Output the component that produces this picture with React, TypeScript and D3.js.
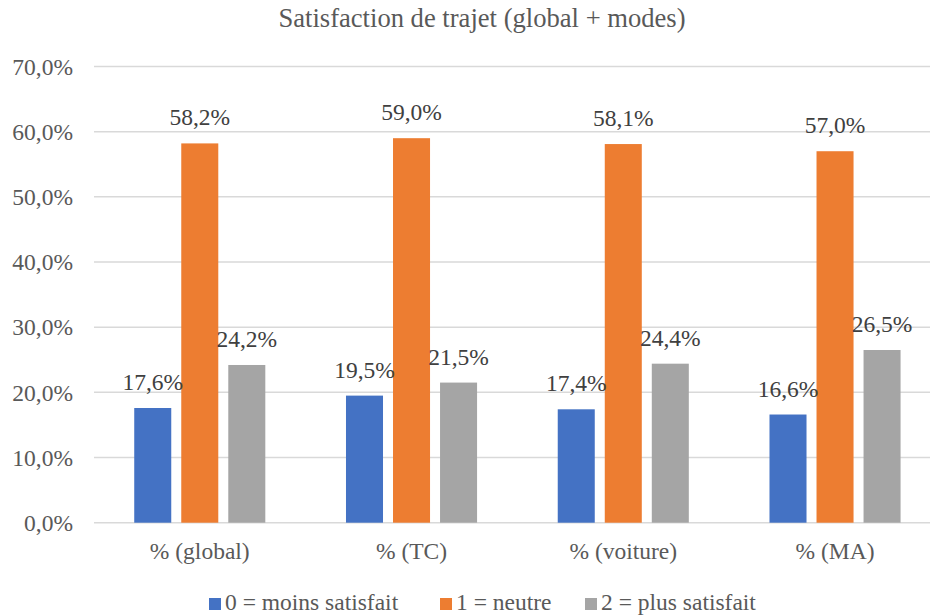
import { useEffect, useRef } from 'react';
import * as d3 from 'd3';

const categories = ['% (global)', '% (TC)', '% (voiture)', '% (MA)'];
const seriesNames = ['0 = moins satisfait', '1 = neutre', '2 = plus satisfait'];
const seriesColors = ['#4472C4', '#ED7D31', '#A5A5A5'];
const moinsSatisfait = [17.6, 19.5, 17.4, 16.6];
const neutre = [58.2, 59.0, 58.1, 57.0];
const plusSatisfait = [24.2, 21.5, 24.4, 26.5];
const yTicks = [0, 10, 20, 30, 40, 50, 60, 70];

const fmt = (v: number) => v.toFixed(1).replace('.', ',') + '%';
const FONT = '"Liberation Serif", "Times New Roman", serif';

export default function App() {
  const svgRef = useRef<SVGSVGElement | null>(null);
  const width = 930;
  const height = 615;

  useEffect(() => {
    if (!svgRef.current) return;
    const values = [moinsSatisfait, neutre, plusSatisfait];
    const svg = d3.select(svgRef.current);
    svg.selectAll('*').remove();

    const x0 = d3.scaleBand<string>().domain(categories).range([94, 940.8])
      .paddingInner(0.381).paddingOuter(0.19);
    const x1 = d3.scaleBand<string>().domain(seriesNames).range([0, x0.bandwidth()])
      .paddingInner(0.2128).paddingOuter(0);
    const y = d3.scaleLinear().domain([0, 70]).range([522.7, 66.5]);

    // title
    svg.append('text')
      .attr('x', 482).attr('y', 27)
      .attr('text-anchor', 'middle')
      .attr('font-family', FONT).attr('font-size', 26.6)
      .attr('fill', '#595959')
      .text('Satisfaction de trajet (global + modes)');

    // grid
    svg.append('g').selectAll('line').data(yTicks).join('line')
      .attr('x1', 94).attr('x2', 940)
      .attr('y1', (d) => y(d)).attr('y2', (d) => y(d))
      .attr('stroke', '#D9D9D9').attr('stroke-width', 1.5);

    // y ticks
    svg.append('g').selectAll('text').data(yTicks).join('text')
      .attr('x', 73).attr('y', (d) => y(d)).attr('dy', '0.35em')
      .attr('text-anchor', 'end')
      .attr('font-family', FONT).attr('font-size', 23.5)
      .attr('fill', '#595959')
      .text((d) => fmt(d));

    // bars
    const groups = svg.append('g').selectAll('g').data(categories).join('g')
      .attr('transform', (c) => `translate(${x0(c)},0)`);

    seriesNames.forEach((s, si) => {
      groups.append('rect')
        .attr('x', x1(s)!)
        .attr('y', (c, i) => y(values[si][i]))
        .attr('width', x1.bandwidth())
        .attr('height', (c, i) => y(0) - y(values[si][i]))
        .attr('fill', seriesColors[si]);
    });

    seriesNames.forEach((s, si) => {
      groups.append('text')
        .attr('x', x1(s)! + x1.bandwidth() / 2)
        .attr('y', (c, i) => y(values[si][i]) - 18)
        .attr('text-anchor', 'middle')
        .attr('font-family', FONT).attr('font-size', 23.5)
        .attr('fill', '#404040')
        .text((c, i) => fmt(values[si][i]));
    });

    // category labels
    svg.append('g').selectAll('text').data(categories).join('text')
      .attr('x', (c) => x0(c)! + x0.bandwidth() / 2)
      .attr('y', 558.5)
      .attr('text-anchor', 'middle')
      .attr('font-family', FONT).attr('font-size', 23.5)
      .attr('fill', '#595959')
      .text((c) => c);

    // legend
    const legendX = [209, 440, 585];
    const lg = svg.append('g').selectAll('g').data(seriesNames).join('g')
      .attr('transform', (d, i) => `translate(${legendX[i]},598)`);
    lg.append('rect').attr('width', 12).attr('height', 12)
      .attr('fill', (d, i) => seriesColors[i]);
    lg.append('text')
      .attr('x', 16).attr('y', 12)
      .attr('font-family', FONT).attr('font-size', 23.5)
      .attr('fill', '#595959')
      .text((d) => d);
  }, []);

  return (
    <svg
      ref={svgRef}
      width={width}
      height={height}
      style={{ position: 'absolute', left: 0, top: 0, display: 'block', background: '#fff' }}
    />
  );
}
